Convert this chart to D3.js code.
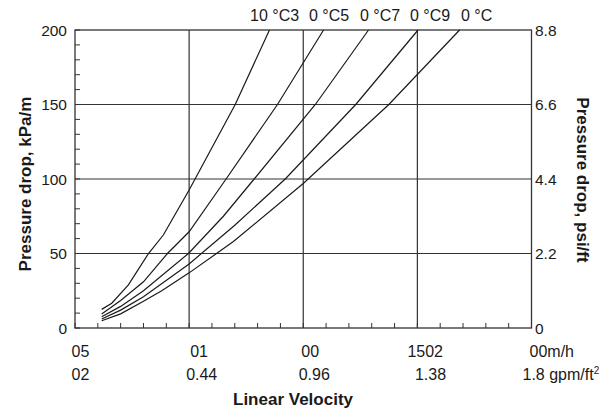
<!DOCTYPE html>
<html>
<head>
<meta charset="utf-8">
<style>
  body { margin: 0; background: #fff; }
  text { font-family: Arial, "Liberation Sans", sans-serif; fill: #1a1a1a; }
</style>
</head>
<body>
<svg id="chart" width="603" height="412"></svg>
<script src="https://cdn.jsdelivr.net/npm/d3@7/dist/d3.min.js"></script>
<script>
// curve labels (temperature) as printed on top, one chunk per curve
var topLabels = ['10 °C3', '0 °C5', '0 °C7', '0 °C9', '0 °C'];

// pressure drop (kPa/m) vs linear velocity (m/h), one curve per temperature
var c10 = [[11.7, 12.5], [16.1, 16.6], [23.4, 28.9], [32.2, 50], [38.7, 62.4], [50, 92.6], [70.2, 150], [85.2, 200]];
var c30 = [[11.7, 9.4], [20, 18.5], [30, 31], [40.5, 50], [50, 64.6], [66.2, 100], [88.7, 150], [108.9, 200]];
var c50 = [[11.7, 7.6], [20, 14.5], [30, 25], [49.7, 50], [65, 75], [78.5, 100], [105.3, 150], [128.6, 200]];
var c70 = [[11.7, 6.0], [20, 12], [30, 21], [50, 43], [70, 69], [92.1, 100], [123, 150], [150.3, 200]];
var c90 = [[11.7, 4.9], [20, 9.5], [30, 18], [38, 25], [50, 37], [69.4, 58], [100, 97], [137.5, 150], [168.5, 200]];
var curves = [c10, c30, c50, c70, c90];

// axis ticks
var xTicks = [0, 50, 100, 150, 200];
var xLabels1 = ['05', '01', '00', '1502', '00m/h'];
var xLabels2 = ['02', '0.44', '0.96', '1.38', '1.8 gpm/ft'];
var yTicks = [0, 50, 100, 150, 200];
var yRight = ['0', '2.2', '4.4', '6.6', '8.8'];

var svg = d3.select('#chart');

var x = d3.scaleLinear([0, 200], [75, 531.5]);
var y = d3.scaleLinear([0, 200], [328, 30]);

var ink = '#333';

// gridlines
svg.append('g')
  .selectAll('line')
  .data(xTicks.slice(1, -1))
  .join('line')
  .attr('x1', d => x(d)).attr('x2', d => x(d))
  .attr('y1', y(0)).attr('y2', y(200))
  .attr('stroke', ink).attr('stroke-width', 1.2);

svg.append('g')
  .selectAll('line')
  .data(yTicks.slice(1, -1))
  .join('line')
  .attr('x1', x(0)).attr('x2', x(200))
  .attr('y1', d => y(d)).attr('y2', d => y(d))
  .attr('stroke', ink).attr('stroke-width', 1.2);

// minor ticks, inside the frame
svg.append('g')
  .selectAll('line')
  .data(d3.range(0, 201, 10))
  .join('line')
  .attr('x1', x(0)).attr('x2', x(0) + 5)
  .attr('y1', d => y(d)).attr('y2', d => y(d))
  .attr('stroke', ink).attr('stroke-width', 1);

svg.append('g')
  .selectAll('line')
  .data(d3.range(0, 201, 10))
  .join('line')
  .attr('x1', d => x(d)).attr('x2', d => x(d))
  .attr('y1', y(0)).attr('y2', y(0) - 5)
  .attr('stroke', ink).attr('stroke-width', 1);

// frame
svg.append('rect')
  .attr('x', x(0)).attr('y', y(200))
  .attr('width', x(200) - x(0)).attr('height', y(0) - y(200))
  .attr('fill', 'none').attr('stroke', ink).attr('stroke-width', 1.3);

// curves
var line = d3.line().x(d => x(d[0])).y(d => y(d[1]));
svg.append('g')
  .selectAll('path')
  .data(curves)
  .join('path')
  .attr('d', line)
  .attr('fill', 'none')
  .attr('stroke', '#1a1a1a')
  .attr('stroke-width', 1.2);

// left tick labels
svg.append('g')
  .selectAll('text')
  .data(yTicks)
  .join('text')
  .attr('x', x(0) - 8)
  .attr('y', d => y(d))
  .attr('dy', '0.36em')
  .attr('text-anchor', 'end')
  .style('font-size', '15.5px')
  .text(d => d);

// right tick labels
svg.append('g')
  .selectAll('text')
  .data(yTicks)
  .join('text')
  .attr('x', x(200) + 3.5)
  .attr('y', d => y(d))
  .attr('dy', '0.36em')
  .style('font-size', '15.5px')
  .text((d, i) => yRight[i]);

// bottom labels, two rows (m/h and gpm/ft2)
var dx1 = [-3.5, 1, -2, -10, -2];
var dx2 = [-3.5, -3, -4.6, -2.4, -9];
svg.append('g')
  .selectAll('text')
  .data(xTicks)
  .join('text')
  .attr('x', (d, i) => x(d) + dx1[i])
  .attr('y', 357)
  .style('font-size', '16px')
  .text((d, i) => xLabels1[i]);

var row2 = svg.append('g')
  .selectAll('text')
  .data(xTicks)
  .join('text')
  .attr('x', (d, i) => x(d) + dx2[i])
  .attr('y', 380)
  .style('font-size', '16px')
  .text((d, i) => xLabels2[i]);
row2.filter((d, i) => i === xTicks.length - 1)
  .append('tspan')
  .attr('dy', -6)
  .style('font-size', '10px')
  .text('2');

// top curve labels
var topX = [250, 309, 360, 410, 461];
svg.append('g')
  .selectAll('text')
  .data(topLabels)
  .join('text')
  .attr('x', (d, i) => topX[i])
  .attr('y', 21)
  .style('font-size', '16px')
  .text(d => d);

// axis titles
svg.append('text')
  .attr('transform', 'translate(25,184) rotate(-90)')
  .attr('dy', '0.35em')
  .attr('text-anchor', 'middle')
  .style('font-size', '17px')
  .style('font-weight', 'bold')
  .text('Pressure drop, kPa/m');

svg.append('text')
  .attr('transform', 'translate(583,180) rotate(90)')
  .attr('dy', '0.35em')
  .attr('text-anchor', 'middle')
  .style('font-size', '17px')
  .style('font-weight', 'bold')
  .text('Pressure drop, psi/ft');

svg.append('text')
  .attr('x', 293)
  .attr('y', 405)
  .attr('text-anchor', 'middle')
  .style('font-size', '17px')
  .style('font-weight', 'bold')
  .text('Linear Velocity');
</script>
</body>
</html>
